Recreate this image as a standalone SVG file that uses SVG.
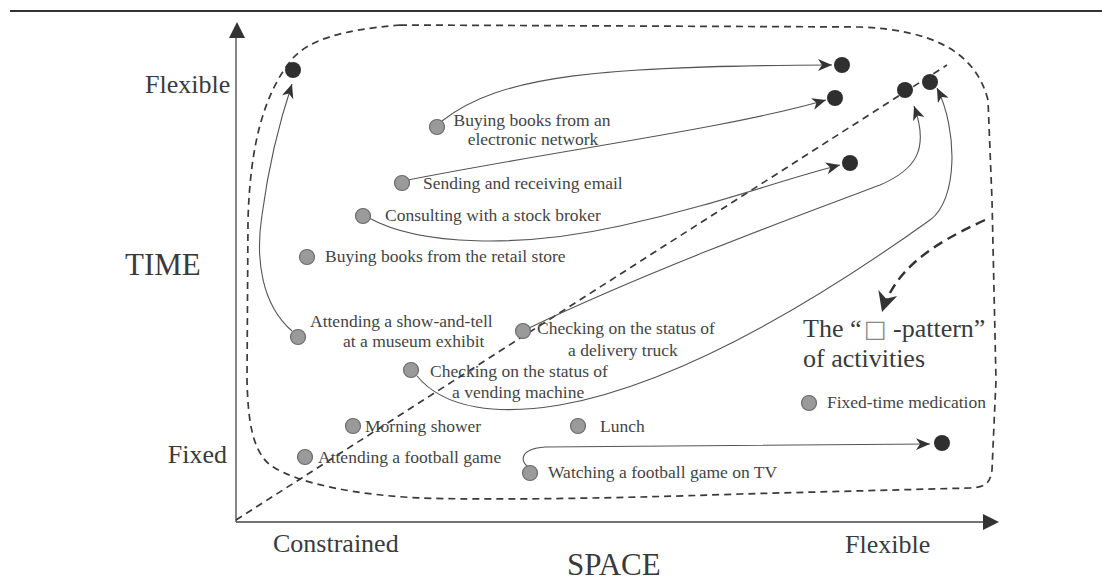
<svg xmlns="http://www.w3.org/2000/svg" width="1102" height="583" viewBox="0 0 1102 583">
<style>
  .lbl { font-family: "Liberation Serif", "Times New Roman", serif; font-size: 17.5px; fill: #444; }
  .ax { font-family: "Liberation Serif", "Times New Roman", serif; font-size: 26px; fill: #3a3a3a; }
  .big { font-family: "Liberation Serif", "Times New Roman", serif; font-size: 31px; fill: #3a3a3a; }
  .act { fill: #9a9a9a; stroke: #6a6a6a; stroke-width: 1.2; }
  .end { fill: #2f2f2f; }
  .flow { fill: none; stroke: #555; stroke-width: 1.1; marker-end: url(#barb); }
  .dash { fill: none; stroke: #3a3a3a; stroke-width: 1.7; stroke-dasharray: 7 5; }
</style>
<defs>
  <marker id="barb" markerUnits="userSpaceOnUse" markerWidth="16" markerHeight="14" refX="14" refY="6" orient="auto">
    <path d="M0,0 L14,6 L0,12 L4,6 Z" fill="#333"/>
  </marker>
  <marker id="bigbarb" markerUnits="userSpaceOnUse" markerWidth="24" markerHeight="24" refX="20" refY="10" orient="auto">
    <path d="M0,0 L20,10 L0,20 L6,10 Z" fill="#333"/>
  </marker>
</defs>

<rect width="1102" height="583" fill="#fff"/>
<line x1="10" y1="11" x2="1102" y2="11" stroke="#333" stroke-width="2.2"/>

<g id="axes">
  <line x1="236" y1="522" x2="236" y2="36" stroke="#444" stroke-width="1.3"/>
  <polygon points="237,22 229,38 245,38" fill="#333"/>
  <line x1="236" y1="522" x2="985" y2="522" stroke="#444" stroke-width="1.3"/>
  <polygon points="999,522 983,514 983,530" fill="#333"/>
  <text class="ax" x="145" y="93">Flexible</text>
  <text class="big" x="125" y="275">TIME</text>
  <text class="ax" x="227" y="463" text-anchor="end">Fixed</text>
  <text class="ax" x="273" y="552">Constrained</text>
  <text class="big" x="567" y="575">SPACE</text>
  <text class="ax" x="845" y="553">Flexible</text>
</g>

<g id="boundary">
  <path class="dash" d="M 400,25 L 860,27 C 930,30 975,50 988,100 L 992,200 L 996,380 L 992,470 C 990,484 985,487 970,488 L 740,494 C 600,499 480,500 420,498 C 360,495 300,485 270,465 C 252,450 248,420 247,380 L 248,220 C 250,150 262,95 293,58 C 310,40 340,30 400,25 Z"/>
  <path class="dash" d="M 236,520 L 947,65"/>
</g>

<g id="connectors">
  <path class="flow" d="M 442,121 C 500,75 600,66 832,65"/>
  <path class="flow" d="M 408,180 C 560,150 730,128 826,100"/>
  <path class="flow" d="M 369,218 C 420,246 520,248 620,226 S 780,180 840,165"/>
  <path class="flow" d="M 529,328 C 650,270 800,215 880,185 C 915,170 930,150 914,106"/>
  <path class="flow" d="M 417,376 C 445,410 500,415 560,405 C 700,380 860,270 930,220 C 958,200 958,130 937,88"/>
  <path class="flow" d="M 292,331 C 262,305 255,260 262,215 C 268,170 280,120 292,84"/>
  <path class="flow" d="M 528,467 C 520,460 520,449 545,447 L 930,444"/>
  <path d="M 985,220 C 930,245 895,270 882,312" fill="none" stroke="#333" stroke-width="2.4" stroke-dasharray="10 6" marker-end="url(#bigbarb)"/>
</g>

<g id="endpoints">
  <circle class="end" cx="293" cy="70" r="8"/>
  <circle class="end" cx="842" cy="65" r="8"/>
  <circle class="end" cx="835" cy="98" r="8"/>
  <circle class="end" cx="850" cy="163" r="8"/>
  <circle class="end" cx="905" cy="90" r="8"/>
  <circle class="end" cx="930" cy="82" r="8"/>
  <circle class="end" cx="942" cy="443" r="8"/>
</g>

<g id="n-buying-electronic">
  <circle class="act" cx="437" cy="127" r="7.5"/>
  <text class="lbl" x="532" y="126" text-anchor="middle">Buying books from an</text>
  <text class="lbl" x="533" y="145" text-anchor="middle">electronic network</text>
</g>
<g id="n-email">
  <circle class="act" cx="402" cy="183" r="7.5"/>
  <text class="lbl" x="423" y="189">Sending and receiving email</text>
</g>
<g id="n-broker">
  <circle class="act" cx="363" cy="216" r="7.5"/>
  <text class="lbl" x="385" y="221">Consulting with a stock broker</text>
</g>
<g id="n-retail">
  <circle class="act" cx="307" cy="257" r="7.5"/>
  <text class="lbl" x="325" y="262">Buying books from the retail store</text>
</g>
<g id="n-museum">
  <circle class="act" cx="298" cy="337" r="7.5"/>
  <text class="lbl" x="310" y="327">Attending a show-and-tell</text>
  <text class="lbl" x="343" y="347">at a museum exhibit</text>
</g>
<g id="n-truck">
  <circle class="act" cx="523" cy="331" r="7.5"/>
  <text class="lbl" x="537" y="334">Checking on the status of</text>
  <text class="lbl" x="568" y="356">a delivery truck</text>
</g>
<g id="n-vending">
  <circle class="act" cx="411" cy="370" r="7.5"/>
  <text class="lbl" x="430" y="377">Checking on the status of</text>
  <text class="lbl" x="452" y="398">a vending machine</text>
</g>
<g id="n-shower">
  <circle class="act" cx="353" cy="426" r="7.5"/>
  <text class="lbl" x="365" y="432">Morning shower</text>
</g>
<g id="n-lunch">
  <circle class="act" cx="578" cy="426" r="7.5"/>
  <text class="lbl" x="600" y="432">Lunch</text>
</g>
<g id="n-football">
  <circle class="act" cx="305" cy="457" r="7.5"/>
  <text class="lbl" x="318" y="463">Attending a football game</text>
</g>
<g id="n-tv">
  <circle class="act" cx="530" cy="473" r="7.5"/>
  <text class="lbl" x="548" y="478">Watching a football game on TV</text>
</g>
<g id="n-medication">
  <circle class="act" cx="809" cy="403" r="7.5"/>
  <text class="lbl" x="827" y="408">Fixed-time medication</text>
</g>

<g id="pattern-label">
  <text class="ax" x="803" y="337">The “<tspan x="864" font-family="DejaVu Sans, sans-serif" font-size="24" fill="#888">□</tspan><tspan x="893">-pattern”</tspan></text>
  <text class="ax" x="803" y="367">of activities</text>
</g>
</svg>
